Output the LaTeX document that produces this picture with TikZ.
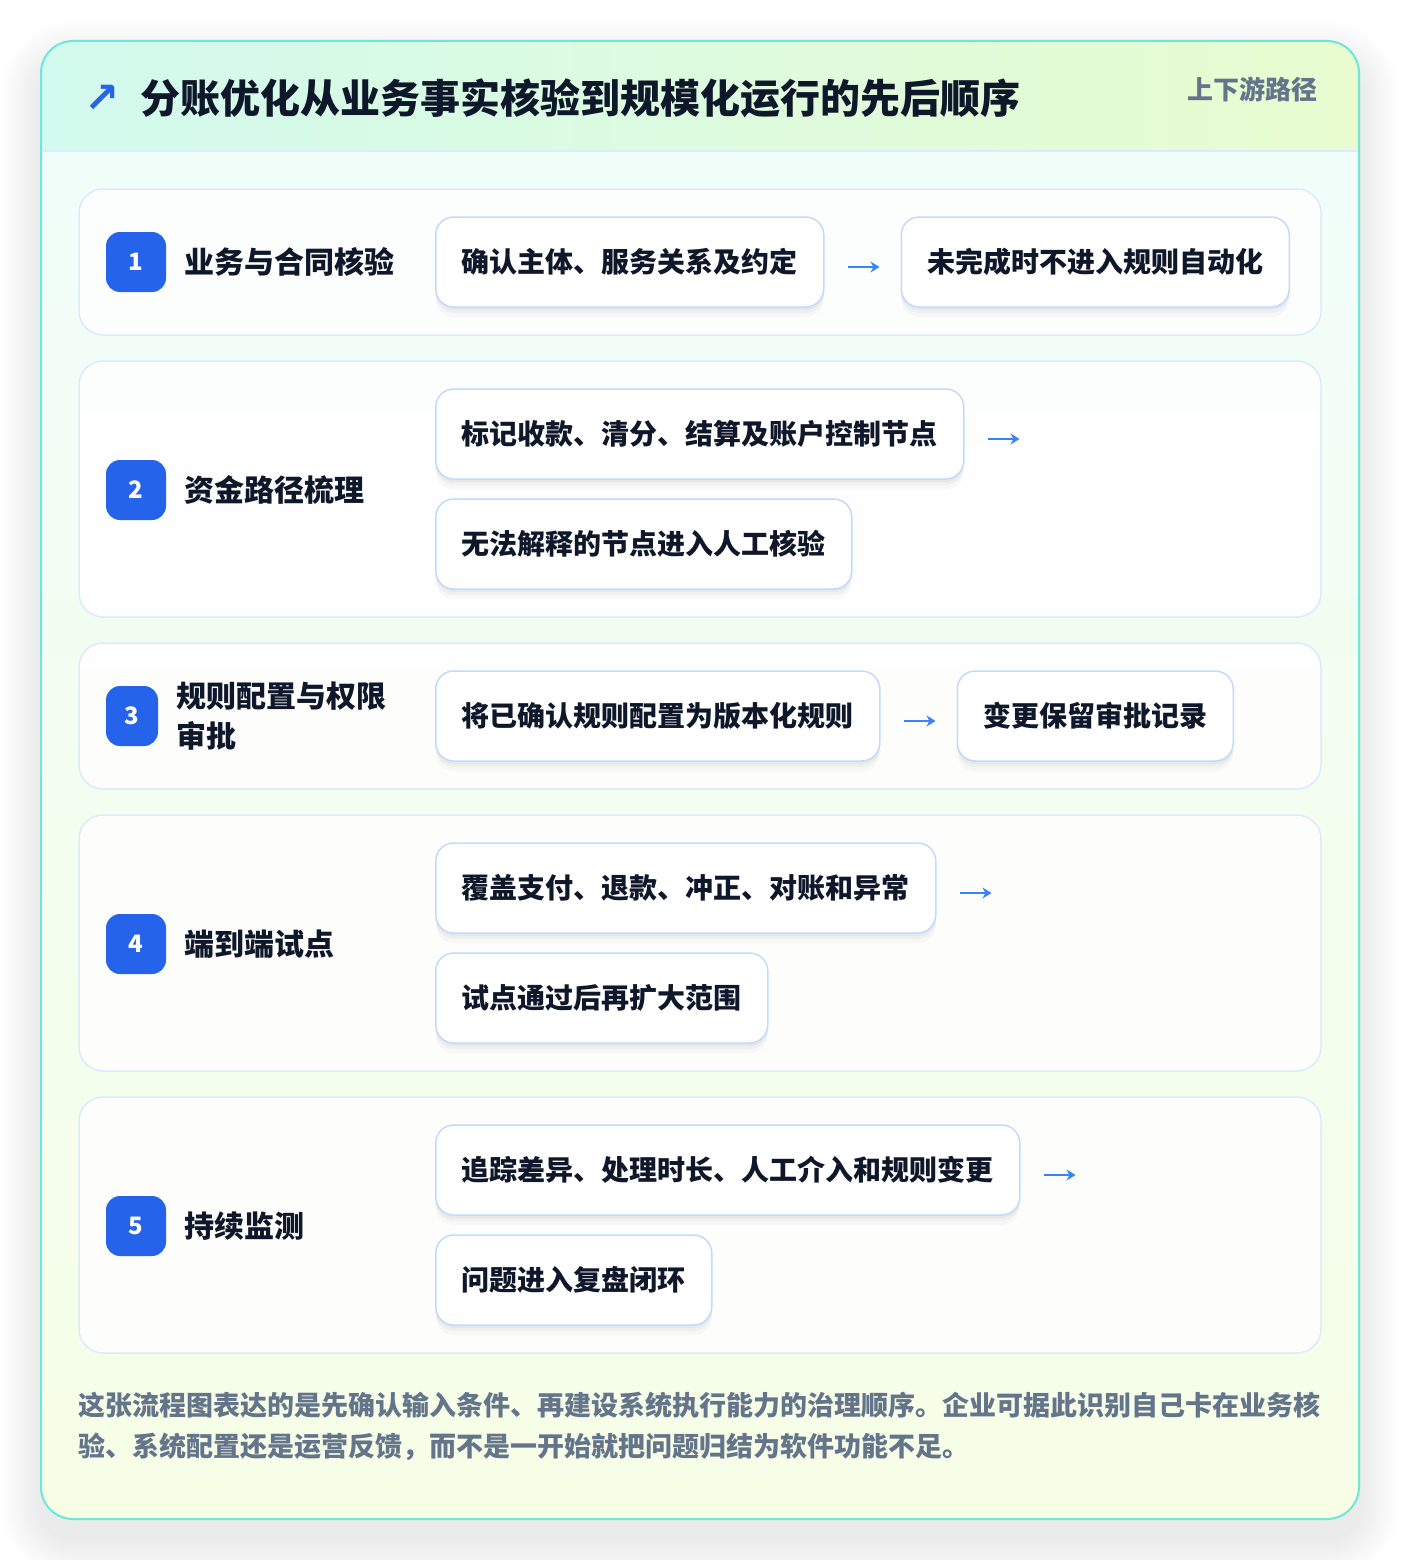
\documentclass[tikz,border=0pt]{standalone}
\usepackage{fontspec}
\setmainfont{Noto Sans CJK SC}
\newfontfamily\symfont{DejaVu Sans}
\usepackage{xcolor}
\usetikzlibrary{positioning}
\usetikzlibrary{arrows.meta}
\usetikzlibrary{calc}
\usetikzlibrary{shadows}

\definecolor{ink}{HTML}{0F172A}
\definecolor{slate}{HTML}{64748B}
\definecolor{badgeblue}{HTML}{2563EB}
\definecolor{arrowblue}{HTML}{3B82F6}
\definecolor{cardedge}{HTML}{6EE7D8}
\definecolor{headleft}{HTML}{D2FAEE}
\definecolor{headright}{HTML}{E8FCCF}
\definecolor{bodytop}{HTML}{F0FDFA}
\definecolor{bodybottom}{HTML}{F6FEE6}
\definecolor{rowedge}{HTML}{DBEAFE}
\definecolor{boxedge}{HTML}{BFDBFE}

\tikzset{
	rowcard/.style = {draw = rowedge, line width = 1.5pt, fill = white, fill opacity = 0.85, rounded corners = 24pt},
	badge/.style = {rectangle, fill = badgeblue, rounded corners = 14pt, minimum width = 60pt, minimum height = 60pt, inner sep = 0pt, text = white, font = \fontsize{24}{28}\selectfont\bfseries},
	steptitle/.style = {anchor = west, inner sep = 0pt, text = ink, align = left, font = \fontsize{30}{40}\selectfont\bfseries},
	softshadow/.style = {drop shadow = {shadow xshift = 0pt, shadow yshift = -10pt, fill = black, opacity = 0.025},
		drop shadow = {shadow xshift = 0pt, shadow yshift = -6pt, fill = black, opacity = 0.03},
		drop shadow = {shadow xshift = 0pt, shadow yshift = -3pt, fill = black, opacity = 0.03}},
	stepbox/.style = {rectangle, draw = boxedge, line width = 1.5pt, fill = white, rounded corners = 18pt, minimum height = 90pt, inner xsep = 26pt, anchor = west, text = ink, font = \fontsize{28}{34}\selectfont\bfseries, softshadow},
	flow/.style = {draw = arrowblue, line width = 2.5pt, -{Stealth[length = 9pt, width = 11pt]}}
}

\begin{document}
\begin{tikzpicture}[x = 1pt, y = -1pt]
		\fill [white] (0, 0) rectangle (1400, 1560);
		\useasboundingbox (0, 0) rectangle (1400, 1560);
		
		% outer card
		\foreach \s in {2, 4, ..., 40} {
			\fill [black, opacity = 0.0045, rounded corners = {(32 + \s) * 1pt}] ({41 - \s}, {61 - \s}) rectangle ({1359 + \s}, {1539 + \s});
		}
		\begin{scope}
		\clip [rounded corners = 32pt] (41, 41) rectangle (1359, 1519);
		\fill [white] (41, 41) rectangle (1359, 1519);
		\shade [top color = bodytop, bottom color = bodybottom] (41, 41) rectangle (1359, 1519);
		\shade [left color = headleft, right color = headright] (41, 41) rectangle (1359, 151);
		\draw [rowedge, line width = 1.5pt] (41, 151) -- (1359, 151);
		\end{scope}
		\draw [cardedge, line width = 2pt, rounded corners = 32pt] (41, 41) rectangle (1359, 1519);
		
		% header
		\node (icon) [text = badgeblue, inner sep = 0pt, font = \symfont\bfseries\fontsize{42}{42}\selectfont] at (102, 99) {↗};
		\node (title) [anchor = west, inner sep = 0pt, text = ink, font = \fontsize{40}{48}\selectfont\bfseries] at (140, 98) {分账优化从业务事实核验到规模化运行的先后顺序};
		\node (route) [anchor = east, inner sep = 0pt, text = slate, font = \fontsize{26}{30}\selectfont\bfseries] at (1318, 89) {上下游路径};
		
		% row cards
		\draw [rowcard] (79, 189) rectangle (1321, 335);
		\draw [rowcard] (79, 361) rectangle (1321, 617);
		\draw [rowcard] (79, 643) rectangle (1321, 789);
		\draw [rowcard] (79, 815) rectangle (1321, 1071);
		\draw [rowcard] (79, 1097) rectangle (1321, 1353);
		
		% 1
		\node (n1) [badge] at (136, 262) {1};
		\node (t1) [steptitle, right = 18pt of n1] {业务与合同核验};
		\node (b1a) [stepbox] at (435, 262) {确认主体、服务关系及约定};
		\node (b1b) [stepbox, right = 76pt of b1a] {未完成时不进入规则自动化};
		\draw [flow, shorten <= 23pt, shorten >= 21pt] ([yshift = -5pt]b1a.east) -- ([yshift = -5pt]b1b.west);
		
		% 2
		\node (n2) [badge] at (136, 490) {2};
		\node (t2) [steptitle, right = 18pt of n2] {资金路径梳理};
		\node (b2a) [stepbox] at (435, 434) {标记收款、清分、结算及账户控制节点};
		\node (b2b) [stepbox] at (435, 544) {无法解释的节点进入人工核验};
		\coordinate (e2) at ($(b2a.east) + (55, 5)$);
		\draw [flow, shorten <= 23pt] ([yshift = -5pt]b2a.east) -- (e2);
		
		% 3
		\node (n3) [badge, minimum width = 52pt] at (132, 716) {3};
		\node (t3) [steptitle, right = 18pt of n3] {规则配置与权限\\审批};
		\node (b3a) [stepbox] at (435, 716) {将已确认规则配置为版本化规则};
		\node (b3b) [stepbox, right = 76pt of b3a] {变更保留审批记录};
		\draw [flow, shorten <= 23pt, shorten >= 21pt] ([yshift = -5pt]b3a.east) -- ([yshift = -5pt]b3b.west);
		
		% 4
		\node (n4) [badge] at (136, 944) {4};
		\node (t4) [steptitle, right = 18pt of n4] {端到端试点};
		\node (b4a) [stepbox] at (435, 888) {覆盖支付、退款、冲正、对账和异常};
		\node (b4b) [stepbox] at (435, 998) {试点通过后再扩大范围};
		\coordinate (e4) at ($(b4a.east) + (55, 5)$);
		\draw [flow, shorten <= 23pt] ([yshift = -5pt]b4a.east) -- (e4);
		
		% 5
		\node (n5) [badge] at (136, 1226) {5};
		\node (t5) [steptitle, right = 18pt of n5] {持续监测};
		\node (b5a) [stepbox] at (435, 1170) {追踪差异、处理时长、人工介入和规则变更};
		\node (b5b) [stepbox] at (435, 1280) {问题进入复盘闭环};
		\coordinate (e5) at ($(b5a.east) + (55, 5)$);
		\draw [flow, shorten <= 23pt] ([yshift = -5pt]b5a.east) -- (e5);
		
		% footer
		\node (note) [anchor = west, inner sep = 0pt, align = left, text = slate, font = \fontsize{27}{41}\selectfont\bfseries] at (78, 1426) {这张流程图表达的是先确认输入条件、再建设系统执行能力的治理顺序。企业可据此识别自己卡在业务核\\验、系统配置还是运营反馈，而不是一开始就把问题归结为软件功能不足。};
		
		\end{tikzpicture}
\end{document}
